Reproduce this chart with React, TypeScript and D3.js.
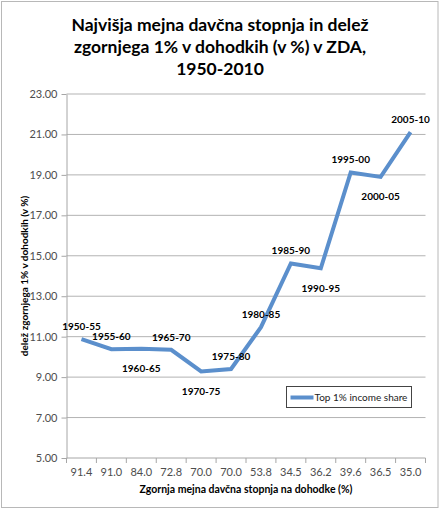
import React, { useEffect, useRef } from "react";
import * as d3 from "d3";

// chart values
const periods = [
  "1950-55", "1955-60", "1960-65", "1965-70", "1970-75", "1975-80",
  "1980-85", "1985-90", "1990-95", "1995-00", "2000-05", "2005-10",
];
const topRates = ["91.4", "91.0", "84.0", "72.8", "70.0", "70.0", "53.8", "34.5", "36.2", "39.6", "36.5", "35.0"];
const topShare = [10.88, 10.38, 10.40, 10.35, 9.28, 9.40, 11.47, 14.62, 14.38, 19.12, 18.9, 21.12];
// label placement: above or below the point
const labelSide = ["up", "up", "down", "up", "down", "up", "up", "up", "down", "up", "down", "up"];
const yTicks = [5, 7, 9, 11, 13, 15, 17, 19, 21, 23];

const titleLines = [
  "Najvišja mejna davčna stopnja in delež",
  "zgornjega 1% v dohodkih (v %) v ZDA,",
  "1950-2010",
];

const W = 440;
const H = 509;
const margin = { left: 66.5, right: 14.5, top: 94, bottom: 51 };
const FONT = "Lato, 'Open Sans', sans-serif";
const LINE = "#5b8fcc";

const App = () => {
  const ref = useRef(null);

  useEffect(() => {
    const svg = d3.select(ref.current);
    svg.selectAll("*").remove();

    const xdim = W - margin.left - margin.right;
    const ydim = H - margin.top - margin.bottom;

    // outer frame
    svg
      .append("rect")
      .attr("x", 1.5)
      .attr("y", 1.5)
      .attr("width", 436.5)
      .attr("height", 506)
      .attr("fill", "#fff")
      .attr("stroke", "#b8b8b8");

    // title
    svg
      .append("g")
      .selectAll("text")
      .data(titleLines)
      .enter()
      .append("text")
      .attr("x", 220)
      .attr("y", (d, i) => 31 + i * 22)
      .attr("text-anchor", "middle")
      .style("font-family", FONT)
      .style("font-weight", "bold")
      .style("font-size", "17.5px")
      .attr("fill", "#000")
      .text((d) => d);

    const g = svg.append("g").attr("transform", "translate(" + margin.left + "," + margin.top + ")");

    const x: any = d3.scaleBand().domain(topRates.map((d, i) => i + "")).range([0, xdim]);
    const y: any = d3.scaleLinear().domain([5, 23]).range([ydim, 0]);

    // grid lines
    g.append("g")
      .selectAll("line")
      .data(yTicks.slice(1))
      .enter()
      .append("line")
      .attr("x1", 0)
      .attr("x2", xdim)
      .attr("y1", (d) => y(d))
      .attr("y2", (d) => y(d))
      .attr("stroke", "#b3b3b3")
      .attr("stroke-width", 1);

    // y axis
    const yAxis = g
      .append("g")
      .call(d3.axisLeft(y).tickValues(yTicks).tickSize(5).tickSizeOuter(0).tickPadding(4).tickFormat(d3.format(".2f")));
    yAxis.select(".domain").attr("stroke", "#a6a6a6");
    yAxis.selectAll("line").attr("stroke", "#a6a6a6");
    yAxis
      .selectAll("text")
      .attr("fill", "#4d4d4d")
      .style("font-family", FONT)
      .style("font-size", "11px");

    // x axis: ticks on band edges
    const xAxisG = g.append("g").attr("transform", "translate(0," + ydim + ")");
    xAxisG
      .append("line")
      .attr("x1", 0)
      .attr("x2", xdim)
      .attr("stroke", "#a6a6a6");
    xAxisG
      .selectAll(".edge")
      .data(d3.range(topRates.length + 1))
      .enter()
      .append("line")
      .attr("class", "edge")
      .attr("x1", (d) => d * x.bandwidth())
      .attr("x2", (d) => d * x.bandwidth())
      .attr("y1", 0)
      .attr("y2", 5)
      .attr("stroke", "#a6a6a6");
    xAxisG
      .selectAll(".lab")
      .data(topRates)
      .enter()
      .append("text")
      .attr("class", "lab")
      .attr("x", (d, i) => x(i + "") + x.bandwidth() / 2)
      .attr("y", 18)
      .attr("text-anchor", "middle")
      .attr("fill", "#4d4d4d")
      .style("font-family", FONT)
      .style("font-size", "11px")
      .text((d) => d);

    // line
    const line = d3
      .line<number>()
      .x((d, i) => x(i + "") + x.bandwidth() / 2)
      .y((d) => y(d));
    g.append("path")
      .datum(topShare)
      .attr("d", line)
      .attr("fill", "none")
      .attr("stroke", LINE)
      .attr("stroke-width", 4)
      .attr("stroke-linejoin", "miter");

    // point labels
    g.append("g")
      .selectAll("text")
      .data(periods)
      .enter()
      .append("text")
      .attr("x", (d, i) => x(i + "") + x.bandwidth() / 2)
      .attr("y", (d, i) => y(topShare[i]) + (labelSide[i] === "up" ? -9 : 23.5))
      .attr("text-anchor", "middle")
      .style("font-family", FONT)
      .style("font-weight", "bold")
      .style("font-size", "10px")
      .attr("fill", "#000")
      .text((d) => d);

    // axis titles
    g.append("text")
      .attr("transform", "rotate(-90)")
      .attr("x", -ydim / 2)
      .attr("y", -39)
      .attr("text-anchor", "middle")
      .style("font-family", FONT)
      .style("font-weight", "bold")
      .style("font-size", "10px")
      .text("delež zgornjega 1% v dohodkih (v %)");
    g.append("text")
      .attr("x", xdim / 2)
      .attr("y", ydim + 35)
      .attr("text-anchor", "middle")
      .style("font-family", FONT)
      .style("font-weight", "bold")
      .style("font-size", "10.5px")
      .text("Zgornja mejna davčna stopnja na dohodke (%)");

    // legend
    const lg = svg.append("g").attr("transform", "translate(286.5,386.5)");
    lg.append("rect").attr("width", 125).attr("height", 21).attr("fill", "#fff").attr("stroke", "#444");
    lg.append("line").attr("x1", 4).attr("x2", 27).attr("y1", 11).attr("y2", 11).attr("stroke", LINE).attr("stroke-width", 4);
    lg.append("text")
      .attr("x", 28)
      .attr("y", 14.5)
      .style("font-family", FONT)
      .style("font-size", "10px")
      .attr("fill", "#222")
      .text("Top 1% income share");
  }, []);

  return (
    <svg
      ref={ref}
      width={W}
      height={H}
      viewBox={`0 0 ${W} ${H}`}
      style={{ position: "absolute", left: 0, top: 0, display: "block" }}
    ></svg>
  );
};

export default App;
